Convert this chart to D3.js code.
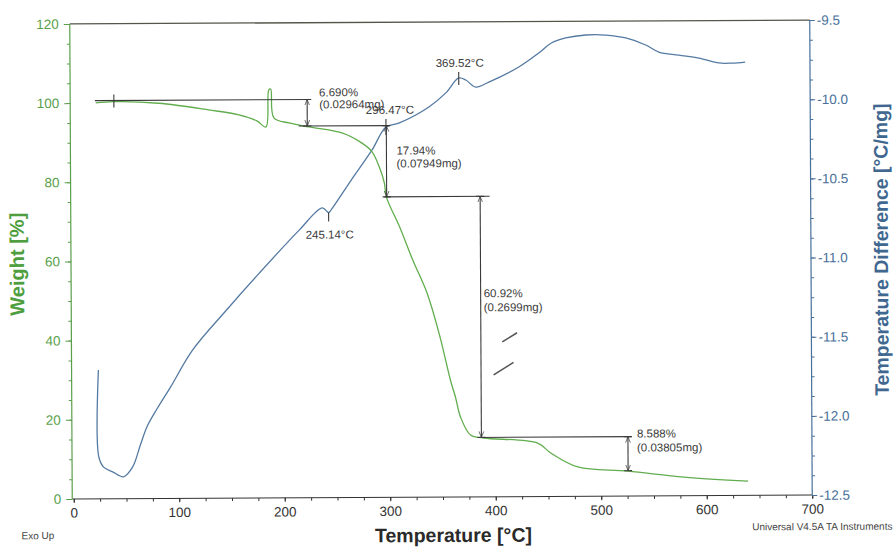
<!DOCTYPE html>
<meta charset="utf-8">
<style>
body { margin: 0; background: #fff; }
svg { font-family: "Liberation Sans", Arial, sans-serif; }
.tick text { font-size: 13.5px; }
.note { font-size: 11.5px; fill: #3a3a3a; }
.annot { stroke: #3a3a3a; stroke-width: 1.1; fill: none; }
</style>
<svg width="894" height="547"></svg>
<script src="https://d3js.org/d3.v7.min.js"></script>
<script>

// weight curve (TGA), % vs temperature
var tempW = [22.8, 39.8, 82.5, 130, 158.4, 175.5, 184, 186.9, 188.7, 191.6, 205.8, 224.8, 256, 275, 284.5, 291.2, 296, 297.8,
             310.2, 322.5, 335.8, 348, 357.6, 362.3, 367, 376.5, 388.9, 440, 452.4, 478, 525.5, 578.6, 639.3];
var weight = [100.0, 100.3, 99.85, 98.1, 96.8, 95.25, 93.7, 103.1, 103.3, 96.0, 94.7, 93.66, 92.1, 89.5, 87.3, 83.5, 79.4, 75.9,
              68.3, 59.9, 51.6, 40.4, 29.55, 25.25, 20.2, 15.6, 14.85, 13.5, 10.97, 7.4, 6.3, 4.7, 3.6];

// temperature difference curve (DTA), °C/mg
var tempD = [24.0, 24.0, 28.5, 37, 47.4, 56, 63.5, 70.2, 79.7, 92, 113.8, 146, 177, 215, 237, 243, 245.7, 264.6, 284.5, 297.8,
             310, 338.6, 354.7, 367, 373.7, 383, 395.5, 424, 443, 455, 468.6, 487.5, 506.5, 525.5, 544.4, 556.8, 575.7, 594.7,
             613.7, 626, 638.6];
var diff = [-11.686, -12.236, -12.30, -12.33, -12.362, -12.30, -12.16, -12.04, -11.93, -11.80, -11.56, -11.31, -11.08, -10.81,
            -10.67, -10.70, -10.68, -10.495, -10.306, -10.161, -10.137, -10.036, -9.948, -9.854, -9.867, -9.912, -9.881, -9.787,
            -9.699, -9.636, -9.605, -9.587, -9.588, -9.607, -9.652, -9.697, -9.717, -9.736, -9.768, -9.769, -9.763];

// weight step analysis
var stepTemp = [223.2, 298.1, 386.7, 525.6];
var stepHigh = [100.6, 93.9, 75.9, 15.0];
var stepLow  = [93.9, 75.9, 15.0, 6.4];
var stepPct  = ["6.690%", "17.94%", "60.92%", "8.588%"];
var stepMg   = ["(0.02964mg)", "(0.07949mg)", "(0.2699mg)", "(0.03805mg)"];
// horizontal level lines: weight level, start and end temperature
var levelW  = [100.6, 93.9, 75.9, 15.0];
var levelT0 = [22, 215, 296, 384];
var levelT1 = [227, 301, 395.7, 529];
var onsetT = 40;

// DTA peaks
var peakTemp = [243, 297.8, 367];
var peakDiff = [-10.70, -10.161, -9.854];
var peakLabel = ["245.14°C", "296.47°C", "369.52°C"];

// stray pen marks on the scan (T, weight)
var scratches = [[[407, 39.1], [421, 41.4]], [[398.6, 30.8], [417.5, 33.9]]];

var xTicks = [0, 100, 200, 300, 400, 500, 600, 700];
var wTicks = [0, 20, 40, 60, 80, 100, 120];
var dTicks = [-12.5, -12.0, -11.5, -11.0, -10.5, -10.0, -9.5];

var green = "#62ad4e", greenAxis = "#5a9f4b", blue = "#557aa2", blueAxis = "#48709a";

var svg = d3.select("svg");
var g = svg.append("g").attr("transform", "rotate(-0.3 441 260)");

var x = d3.scaleLinear().domain([0, 700]).range([72.5, 811]);
var yW = d3.scaleLinear().domain([0, 120]).range([497, 22]);
var yD = d3.scaleLinear().domain([-12.5, -9.5]).range([497, 22]);

var defs = svg.append("defs");
defs.append("marker").attr("id", "arr")
    .attr("viewBox", "0 -5 10 10").attr("refX", 10).attr("refY", 0)
    .attr("markerWidth", 6).attr("markerHeight", 8).attr("markerUnits", "userSpaceOnUse")
    .attr("orient", "auto-start-reverse")
  .append("path").attr("d", "M0,-4L10,0L0,4").attr("fill", "none").attr("stroke", "#3a3a3a").attr("stroke-width", 1.2);

// top frame line
g.append("line").attr("x1", 71).attr("x2", 811).attr("y1", 22).attr("y2", 22)
    .attr("stroke", "#55554a").attr("stroke-width", 1.3);

// axes
var ax = g.append("g").attr("transform", "translate(0,497)")
    .call(d3.axisBottom(x).tickValues(xTicks).tickSize(4).tickPadding(5));
ax.select(".domain").attr("stroke", "#333").attr("d", "M71,0H811");
ax.selectAll(".tick line").attr("stroke", "#333");
ax.selectAll(".tick text").attr("fill", "#333");
g.append("g").attr("transform", "translate(0,497)")
    .call(d3.axisBottom(x).tickValues(d3.range(0, 701, 25)).tickSize(3).tickFormat(""))
    .call(s => s.select(".domain").remove())
    .selectAll("line").attr("stroke", "#333");

var al = g.append("g").attr("transform", "translate(71,0)")
    .call(d3.axisLeft(yW).tickValues(wTicks).tickSize(6).tickPadding(5));
al.select(".domain").attr("stroke", greenAxis).attr("stroke-width", 1.2).attr("d", "M0,22V497");
al.selectAll(".tick line").attr("stroke", greenAxis);
al.selectAll(".tick text").attr("fill", greenAxis);
g.append("g").attr("transform", "translate(71,0)")
    .call(d3.axisLeft(yW).tickValues(d3.range(0, 121, 5)).tickSize(3).tickFormat(""))
    .call(s => s.select(".domain").remove())
    .selectAll("line").attr("stroke", greenAxis);

var ar = g.append("g").attr("transform", "translate(811,0)")
    .call(d3.axisRight(yD).tickValues(dTicks).tickSize(5).tickPadding(2).tickFormat(d => d.toFixed(1)));
ar.select(".domain").attr("stroke", blueAxis).attr("stroke-width", 1.2).attr("d", "M0,22V497");
ar.selectAll(".tick line").attr("stroke", blueAxis);
ar.selectAll(".tick text").attr("fill", blueAxis);
g.append("g").attr("transform", "translate(811,0)")
    .call(d3.axisRight(yD).tickValues(d3.range(0, 25).map(i => -12.5 + i * 0.125)).tickSize(3).tickFormat(""))
    .call(s => s.select(".domain").remove())
    .selectAll("line").attr("stroke", blueAxis);

// titles
g.append("text").attr("x", 452).attr("y", 542).attr("text-anchor", "middle")
    .attr("font-size", 19.5).attr("font-weight", "bold").attr("fill", "#2a2a2a").text("Temperature [°C]");
g.append("text").attr("transform", "translate(24,262) rotate(-90)").attr("text-anchor", "middle")
    .attr("font-size", 20).attr("font-weight", "bold").attr("fill", "#4e9e40").text("Weight [%]");
g.append("text").attr("transform", "translate(888,252) rotate(-90)").attr("text-anchor", "middle")
    .attr("font-size", 19.5).attr("font-weight", "bold").attr("fill", "#3f6790").text("Temperature Difference [°C/mg]");
g.append("text").attr("x", 20).attr("y", 537).attr("font-size", 10).attr("fill", "#444").text("Exo Up");
g.append("text").attr("x", 891).attr("y", 532).attr("text-anchor", "end").attr("font-size", 10)
    .attr("fill", "#444").text("Universal V4.5A TA Instruments");

// curves
var lineW = d3.line().x(d => x(d[0])).y(d => yW(d[1])).curve(d3.curveCatmullRom.alpha(0.5));
var lineD = d3.line().x(d => x(d[0])).y(d => yD(d[1])).curve(d3.curveCatmullRom.alpha(0.5));

g.append("path").datum(tempD.map((t, i) => [t, diff[i]]))
    .attr("d", lineD).attr("fill", "none").attr("stroke", blue).attr("stroke-width", 1.3);
g.append("path").datum(tempW.map((t, i) => [t, weight[i]]))
    .attr("d", lineW).attr("fill", "none").attr("stroke", green).attr("stroke-width", 1.3);

// step annotations
levelW.forEach((w, i) => {
  g.append("line").attr("class", "annot")
      .attr("x1", x(levelT0[i])).attr("x2", x(levelT1[i])).attr("y1", yW(w)).attr("y2", yW(w));
});
g.append("line").attr("class", "annot")
    .attr("x1", x(onsetT)).attr("x2", x(onsetT)).attr("y1", yW(levelW[0]) - 6).attr("y2", yW(levelW[0]) + 7);

// label offsets from arrow top: dx, dy of first and second line
var stepOff = [[12, -3, 9], [10, 29, 42], [3, 101, 115], [9, 1, 15]];
stepTemp.forEach((t, i) => {
  var xx = x(t), y1 = yW(stepHigh[i]), y2 = yW(stepLow[i]);
  g.append("line").attr("class", "annot").attr("x1", xx).attr("x2", xx).attr("y1", y1).attr("y2", y2)
      .attr("marker-start", "url(#arr)").attr("marker-end", "url(#arr)");
  g.append("line").attr("class", "annot").attr("x1", xx - 4).attr("x2", xx + 4).attr("y1", y1).attr("y2", y1);
  g.append("line").attr("class", "annot").attr("x1", xx - 4).attr("x2", xx + 4).attr("y1", y2).attr("y2", y2);
  var o = stepOff[i];
  g.append("text").attr("class", "note").attr("x", xx + o[0]).attr("y", y1 + o[1]).text(stepPct[i]);
  g.append("text").attr("class", "note").attr("x", xx + o[0]).attr("y", y1 + o[2]).text(stepMg[i]);
});

// peak markers: tick from, tick to, label dx, label baseline dy
var peakOff = [[0, 9, 1, 26], [-8, 8, 4, -13], [-6, 7, 1, -11]];
peakTemp.forEach((t, i) => {
  var xx = x(t), yy = yD(peakDiff[i]), o = peakOff[i];
  g.append("line").attr("class", "annot").attr("x1", xx).attr("x2", xx).attr("y1", yy + o[0]).attr("y2", yy + o[1]);
  g.append("text").attr("class", "note").attr("text-anchor", "middle")
      .attr("x", xx + o[2]).attr("y", yy + o[3]).text(peakLabel[i]);
});

scratches.forEach(s => {
  g.append("line").attr("x1", x(s[0][0])).attr("y1", yW(s[0][1])).attr("x2", x(s[1][0])).attr("y2", yW(s[1][1]))
      .attr("stroke", "#555").attr("stroke-width", 1.6);
});

</script>
